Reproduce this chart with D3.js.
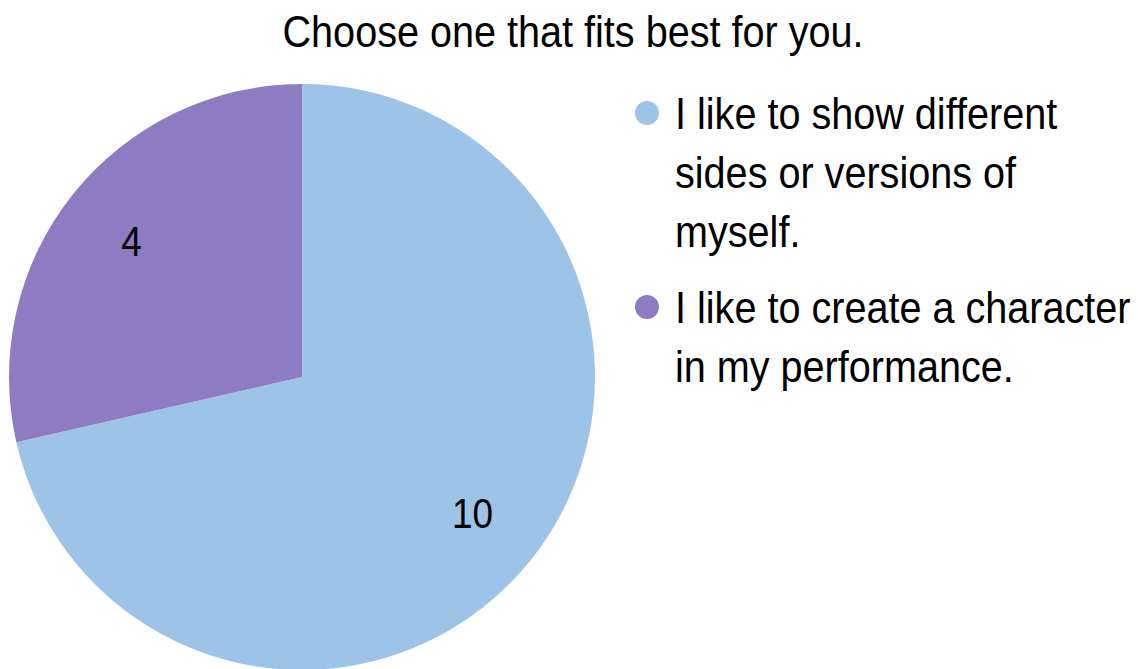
<!DOCTYPE html>
<html>
<head>
<meta charset="utf-8">
<script src="https://cdn.jsdelivr.net/npm/d3@7"></script>
<style>
  body { margin: 0; background: #fff; }
  text { font-family: "Liberation Sans", Arial, sans-serif; fill: #000; }
</style>
</head>
<body>
<svg id="chart"></svg>
<script>
const title = 'Choose one that fits best for you.';
const categories = [
  'I like to show different sides or versions of myself.',
  'I like to create a character in my performance.'
];
const values = [10, 4];
const colors = ['#9dc3e6', '#8e7cc3'];
// legend text as it wraps in the picture
const legendLines = [
  ['I like to show different', 'sides or versions of', 'myself.'],
  ['I like to create a character', 'in my performance.']
];

const width = 1138;
const height = 669;
const cx = 302;
const cy = 377;
const radius = 293;
const squeeze = 0.88; // the original font is a narrow one

const svg = d3.select('#chart').attr('width', width).attr('height', height);

svg.append('text')
   .attr('transform', `translate(573, 47) scale(${squeeze}, 1)`)
   .attr('text-anchor', 'middle')
   .style('font-size', '45px')
   .text(title);

const data = categories.map((c, i) => ({name: c, value: values[i], color: colors[i]}));

const pie = d3.pie().sort(null).value((d) => d.value);
const arc = d3.arc().innerRadius(0).outerRadius(radius);
const labelArc = d3.arc().innerRadius(218).outerRadius(218);

const g = svg.append('g').attr('transform', `translate(${cx}, ${cy})`);
const slices = g.selectAll('g.slice').data(pie(data)).enter().append('g').classed('slice', true);

slices.append('path')
      .attr('d', arc)
      .attr('fill', (d) => d.data.color);

slices.append('text')
      .attr('transform', (d) => `translate(${labelArc.centroid(d)}) scale(${squeeze}, 1)`)
      .attr('text-anchor', 'middle')
      .attr('dy', '0.36em')
      .style('font-size', '42px')
      .text((d) => d.data.value);

// legend
const legend = svg.append('g').attr('transform', 'translate(647, 0)');
const itemTop = [113, 307];
const lineStep = 59;

data.forEach((d, i) => {
  const item = legend.append('g').attr('transform', `translate(0, ${itemTop[i]})`);
  item.append('circle').attr('r', 12).attr('fill', d.color);
  const t = item.append('text')
                .attr('transform', `translate(28, 0) scale(${squeeze}, 1)`)
                .style('font-size', '45px');
  legendLines[i].forEach((line, j) => {
    t.append('tspan').attr('x', 0).attr('y', j * lineStep).attr('dy', '0.36em').text(line);
  });
});
</script>
</body>
</html>
